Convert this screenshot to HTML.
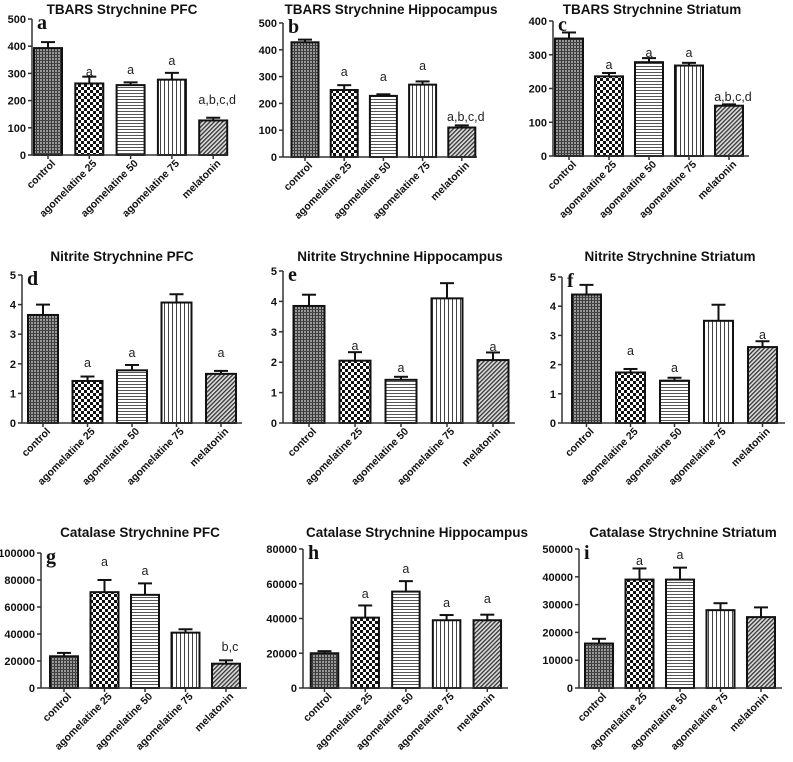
<!DOCTYPE html>
<html><head><meta charset="utf-8"><style>
html,body{margin:0;padding:0;background:#fff;}
svg{display:block;font-family:"Liberation Sans",Arial,sans-serif;}
</style></head><body>
<svg id="fig" width="793" height="762" viewBox="0 0 793 762" xmlns="http://www.w3.org/2000/svg">
<defs>
<pattern id="pCtrl" width="3" height="3" patternUnits="userSpaceOnUse"><rect width="3" height="3" fill="#9a9a9a"/><rect width="1" height="3" fill="#333"/><rect width="3" height="1" fill="#444"/></pattern>
<pattern id="pCheck" width="6" height="6" patternUnits="userSpaceOnUse"><rect width="6" height="6" fill="#fff"/><rect width="3" height="3" fill="#111"/><rect x="3" y="3" width="3" height="3" fill="#111"/></pattern>
<pattern id="pHor" width="3" height="3" patternUnits="userSpaceOnUse"><rect width="3" height="3" fill="#fff"/><rect width="3" height="1" fill="#555"/></pattern>
<pattern id="pVer" width="4" height="4" patternUnits="userSpaceOnUse"><rect width="4" height="4" fill="#fff"/><rect width="1" height="4" fill="#444"/></pattern>
<pattern id="pDiag" width="3" height="3" patternUnits="userSpaceOnUse" patternTransform="rotate(45)"><rect width="3" height="3" fill="#ddd"/><rect width="1.3" height="3" fill="#333"/></pattern>
</defs>
</svg>
<script>
// ---- data ----
const categories = ["control","agomelatine 25","agomelatine 50","agomelatine 75","melatonin"];
const tbarsPfcMeans = [393, 263, 257, 277, 127];
const tbarsPfcErr = [22, 25, 10, 25, 10];
const tbarsPfcLabels = ["", "a", "a", "a", "a,b,c,d"];
const tbarsPfcLabelAt = [null, 291, 298, 331, 188];
const tbarsHipMeans = [428, 250, 228, 270, 110];
const tbarsHipErr = [10, 18, 6, 12, 8];
const tbarsHipLabels = ["", "a", "a", "a", "a,b,c,d"];
const tbarsHipLabelAt = [null, 302, 283, 325, 134];
const tbarsStrMeans = [348, 236, 278, 268, 149];
const tbarsStrErr = [18, 10, 12, 8, 4];
const tbarsStrLabels = ["", "a", "a", "a", "a,b,c,d"];
const tbarsStrLabelAt = [null, 258, 293, 293, 163];
const nitPfcMeans = [3.65, 1.42, 1.78, 4.07, 1.66];
const nitPfcErr = [0.35, 0.15, 0.18, 0.28, 0.1];
const nitPfcLabels = ["", "a", "a", "", "a"];
const nitPfcLabelAt = [null, 1.89, 2.23, null, 2.23];
const nitHipMeans = [3.85, 2.05, 1.42, 4.1, 2.07];
const nitHipErr = [0.37, 0.28, 0.1, 0.5, 0.25];
const nitHipLabels = ["", "a", "a", "", "a"];
const nitHipLabelAt = [null, 2.4, 1.68, null, 2.37];
const nitStrMeans = [4.4, 1.73, 1.45, 3.5, 2.6];
const nitStrErr = [0.33, 0.12, 0.1, 0.55, 0.2];
const nitStrLabels = ["", "a", "a", "", "a"];
const nitStrLabelAt = [null, 2.33, 1.74, null, 2.87];
const catPfcMeans = [23500, 71000, 69000, 41000, 18000];
const catPfcErr = [2500, 9000, 8500, 2500, 2500];
const catPfcLabels = ["", "a", "a", "", "b,c"];
const catPfcLabelAt = [null, 90400, 83700, null, 27400];
const catHipMeans = [20000, 40500, 55500, 39000, 39000];
const catHipErr = [1200, 7000, 6000, 3000, 3200];
const catHipLabels = ["", "a", "a", "a", "a"];
const catHipLabelAt = [null, 51800, 66200, 46600, 49000];
const catStrMeans = [16000, 39000, 39000, 28000, 25500];
const catStrErr = [1700, 4000, 4300, 2500, 3500];
const catStrLabels = ["", "a", "a", "", ""];
const catStrLabelAt = [null, 44200, 46400, null, null];
const yTicksTbarsPfc = [0,100,200,300,400,500];
const yTicksTbarsStr = [0,100,200,300,400];
const yTicksNit = [0,1,2,3,4,5];
const yTicksCatPfc = [0,20000,40000,60000,80000,100000];
const yTicksCatHip = [0,20000,40000,60000,80000];
const yTicksCatStr = [0,10000,20000,30000,40000,50000];

const fills = ["url(#pCtrl)","url(#pCheck)","url(#pHor)","url(#pVer)","url(#pDiag)"];
const NS = "http://www.w3.org/2000/svg";
const svg = document.getElementById("fig");
function mk(tag, attrs, parent){const e=document.createElementNS(NS,tag);for(const k in attrs)e.setAttribute(k,attrs[k]);(parent||svg).appendChild(e);return e;}

const panels = [
 {id:"a",title:"TBARS Strychnine PFC",tx:122,ty:14,ax:32,yTop:19,y0:155,c0:48,sp:41.3,w:28,end:228,ticks:yTicksTbarsPfc,m:tbarsPfcMeans,e:tbarsPfcErr,l:tbarsPfcLabels,la:tbarsPfcLabelAt},
 {id:"b",title:"TBARS Strychnine  Hippocampus",tx:391,ty:14,ax:283,yTop:23,y0:157,c0:305,sp:39.2,w:27,end:477,ticks:yTicksTbarsPfc,m:tbarsHipMeans,e:tbarsHipErr,l:tbarsHipLabels,la:tbarsHipLabelAt},
 {id:"c",title:"TBARS Strychnine Striatum",tx:652,ty:14,ax:553,yTop:21,y0:156,c0:569,sp:40,w:28,end:749,ticks:yTicksTbarsStr,m:tbarsStrMeans,e:tbarsStrErr,l:tbarsStrLabels,la:tbarsStrLabelAt},
 {id:"d",title:"Nitrite Strychnine PFC",tx:122,ty:261,ax:22,yTop:275,y0:423,c0:43,sp:44.5,w:30,end:242,ticks:yTicksNit,m:nitPfcMeans,e:nitPfcErr,l:nitPfcLabels,la:nitPfcLabelAt},
 {id:"e",title:"Nitrite Strychnine Hippocampus",tx:400,ty:261,ax:283,yTop:271,y0:423,c0:309,sp:46,w:31,end:515,ticks:yTicksNit,m:nitHipMeans,e:nitHipErr,l:nitHipLabels,la:nitHipLabelAt},
 {id:"f",title:"Nitrite Strychnine Striatum",tx:670,ty:261,ax:562,yTop:277,y0:423,c0:586.5,sp:44,w:29,end:785,ticks:yTicksNit,m:nitStrMeans,e:nitStrErr,l:nitStrLabels,la:nitStrLabelAt},
 {id:"g",title:"Catalase Strychnine PFC",tx:140,ty:537,ax:41,yTop:553,y0:688,c0:64,sp:40.5,w:28,end:247,ticks:yTicksCatPfc,m:catPfcMeans,e:catPfcErr,l:catPfcLabels,la:catPfcLabelAt},
 {id:"h",title:"Catalase Strychnine Hippocampus",tx:417,ty:537,ax:303,yTop:549,y0:688,c0:324.5,sp:40.7,w:27.5,end:508,ticks:yTicksCatHip,m:catHipMeans,e:catHipErr,l:catHipLabels,la:catHipLabelAt},
 {id:"i",title:"Catalase Strychnine Striatum",tx:683,ty:537,ax:579,yTop:549,y0:688,c0:599,sp:40.5,w:28,end:782,ticks:yTicksCatStr,m:catStrMeans,e:catStrErr,l:catStrLabels,la:catStrLabelAt}
];

panels.forEach(p=>{
  const g = mk("g",{});
  
  
  const max = p.ticks[p.ticks.length-1];
  const y = v => p.y0 - (v/max)*(p.y0-p.yTop);
  const x = i => p.c0 + i*p.sp;
  const t = mk("text",{x:p.tx,y:p.ty,"text-anchor":"middle","font-size":"13.5","font-weight":"bold",fill:"#111"},g);
  t.textContent = p.title;
  
  
  const lt = mk("text",{x:p.ax+5,y:p.yTop+10,"font-size":"20","font-weight":"bold","font-family":"Liberation Serif, serif",fill:"#111"},g);
  lt.textContent = p.id;
  
  
  p.m.forEach((v,i)=>{
    const cx = x(i), top = y(v), et = y(v+p.e[i]);
    const eb = mk("line",{x1:cx,x2:cx,y1:top,y2:et,stroke:"#111","stroke-width":"2"},g);
    
    
    mk("line",{x1:cx-7,x2:cx+7,y1:et,y2:et,stroke:"#111","stroke-width":"2"},g);
    const r = mk("rect",{x:cx-p.w/2,y:top,width:p.w,height:p.y0-top,fill:fills[i],stroke:"#111","stroke-width":"2"},g);
    
    
    if(p.l[i]){
      const s = mk("text",{x:cx+(p.l[i].length>1?4:0),y:y(p.la[i]),"text-anchor":"middle","font-size":"12.5",fill:"#222"},g);
      s.textContent = p.l[i];
      
      
    }
    const ax = cx+8, ay = p.y0+9;
    const c = mk("text",{x:ax,y:ay,"text-anchor":"end","font-size":"10.5","font-weight":"bold",fill:"#111",transform:`rotate(-45 ${ax} ${ay})`},g);
    c.textContent = categories[i];
    
    
  });
  const ya = mk("line",{x1:p.ax,x2:p.ax,y1:p.yTop,y2:p.y0,stroke:"#333","stroke-width":"1.5"},g);
  
  
  const xa = mk("line",{x1:p.ax,x2:p.end,y1:p.y0,y2:p.y0,stroke:"#333","stroke-width":"1.5"},g);
  
  
  p.ticks.forEach(tv=>{
    const ty = y(tv);
    mk("line",{x1:p.ax-4,x2:p.ax,y1:ty,y2:ty,stroke:"#333","stroke-width":"1.5"},g);
    const tl = mk("text",{x:p.ax-6,y:ty+4,"text-anchor":"end","font-size":"11","font-weight":"bold",fill:"#111"},g);
    tl.textContent = String(tv);
    
    
  });
  p.m.forEach((v,i)=>{ mk("line",{x1:x(i),x2:x(i),y1:p.y0,y2:p.y0+4,stroke:"#333","stroke-width":"1.5"},g); });
});
</script>
</body></html>
